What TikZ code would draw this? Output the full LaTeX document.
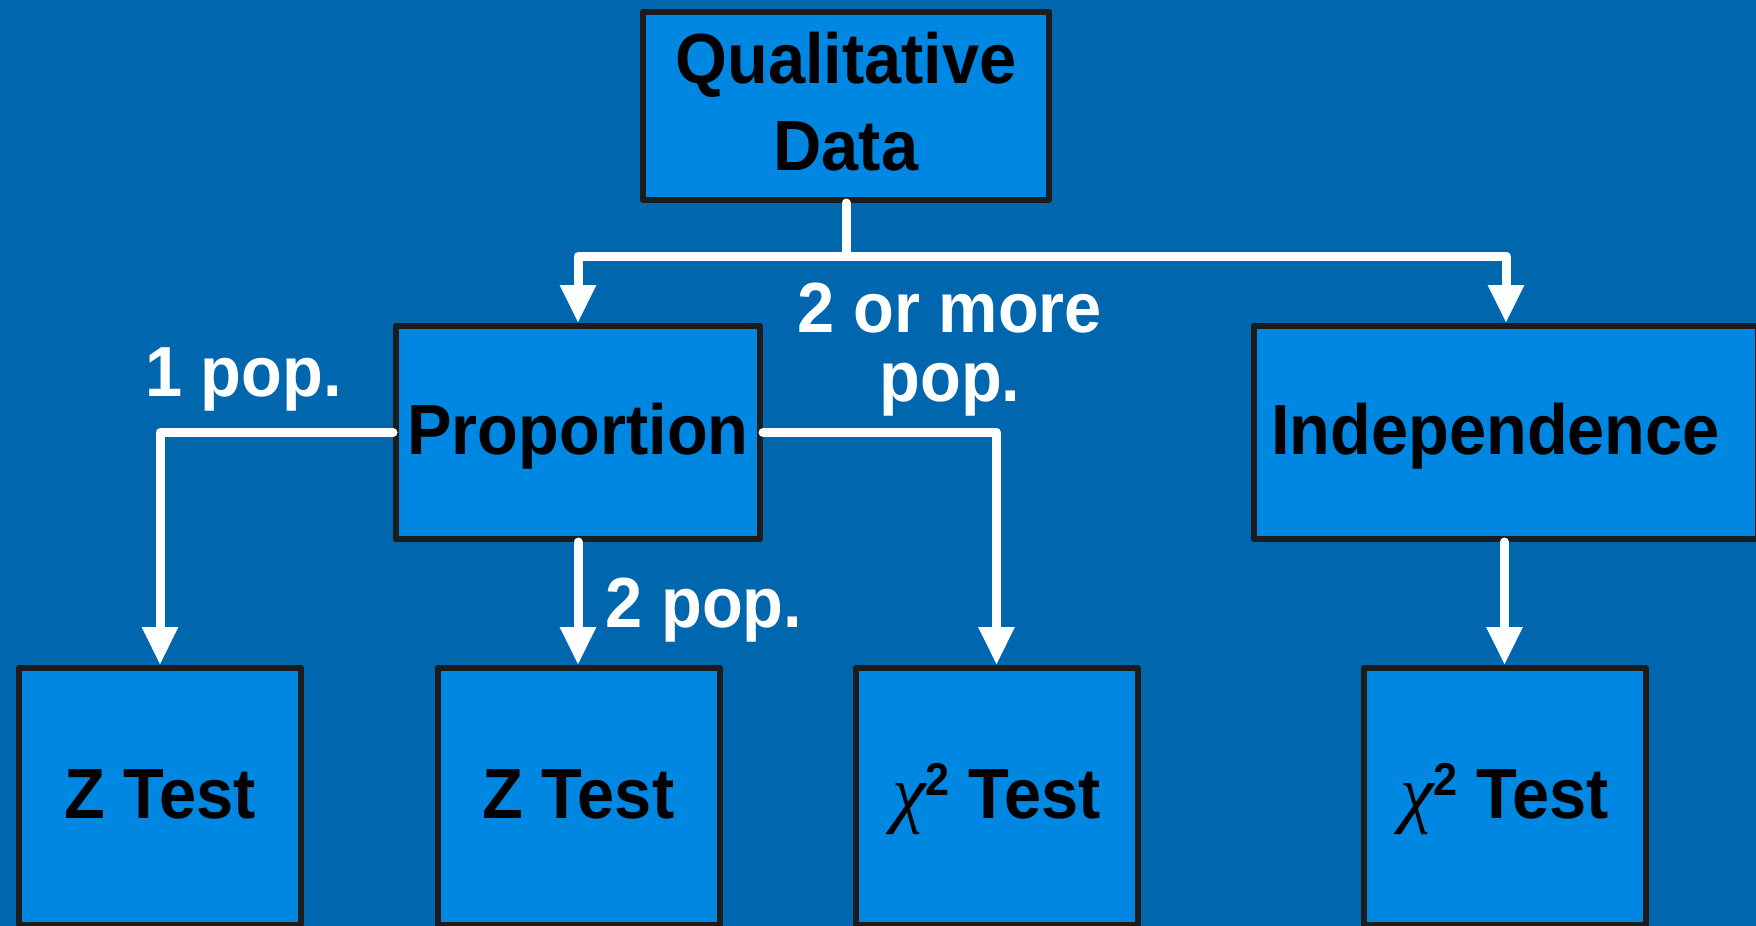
\documentclass[tikz,border=0pt]{standalone}
\usepackage{fontspec}
\setmainfont{Liberation Sans}[FakeStretch=0.94]
\newfontfamily\grkfont{Liberation Serif}
\usetikzlibrary{arrows.meta}
\definecolor{bgblue}{RGB}{0,102,174}
\definecolor{boxblue}{RGB}{0,135,226}
\definecolor{edgegray}{RGB}{28,28,28}
\newcommand{\chiSq}{{\grkfont\mdseries\itshape\fontsize{76}{76}\selectfont χ}\raisebox{23pt}{\fontsize{46}{46}\selectfont 2}}
\begin{document}
\begin{tikzpicture}[x=1pt,y=-1pt,
  txt/.style={font=\fontsize{71}{87}\selectfont\bfseries},
  box/.style={draw=edgegray, line width=6pt, fill=boxblue, line join=round, inner sep=0pt, txt},
  onebox/.style={box, text height=44pt, text depth=0pt},
  lab/.style={txt, text=white, inner sep=0pt},
  conn/.style={draw=white, line width=9pt, line cap=round, line join=round},
  arr/.style={conn, -{Triangle[width=34pt,length=38pt]}}]
\clip (0,0) rectangle (1756,926);
\fill[bgblue] (0,0) rectangle (1756,926);
% boxes
\node[box, align=center, minimum width=406pt, minimum height=188pt] (qd) at (846,106) {Qualitative\\Data\rule[-9pt]{0pt}{9pt}};
\node[onebox, minimum width=364pt, minimum height=213pt] (prop) at (578,432.5) {Proportion};
\node[onebox, minimum width=504pt, minimum height=213pt] (ind) at (1506,432.5) {Independence\hspace*{21pt}};
\node[onebox, minimum width=282pt, minimum height=257pt] (z1) at (160,796.5) {Z Test};
\node[onebox, minimum width=282pt, minimum height=257pt] (z2) at (578.5,796.5) {Z Test};
\node[onebox, minimum width=282pt, minimum height=257pt] (c1) at (996.5,796.5) {\chiSq\ Test};
\node[onebox, minimum width=282pt, minimum height=257pt] (c2) at (1504.5,796.5) {\chiSq\ Test};
% labels
\node[lab, anchor=base] (l1) at (243.5,396) {1 pop.};
\node[lab, anchor=base] (l2) at (704,627) {2 pop.};
\node[lab, align=center, font=\fontsize{71}{69}\selectfont\bfseries] (l3) at (950,349.5) {2 or more\\pop.};
% connectors
\coordinate (j) at (846,256);
\draw[conn] (qd.south) -- (j);
\draw[arr] (j) -| (prop.north);
\draw[arr] (j) -| (ind.north);
\draw[arr] (prop.west) -| (z1.north);
\draw[arr] (prop.east) -| (c1.north);
\draw[arr] (prop.south) -- (prop.south |- z2.north);
\draw[arr] (c2.north |- ind.south) -- (c2.north);
\end{tikzpicture}
\end{document}
